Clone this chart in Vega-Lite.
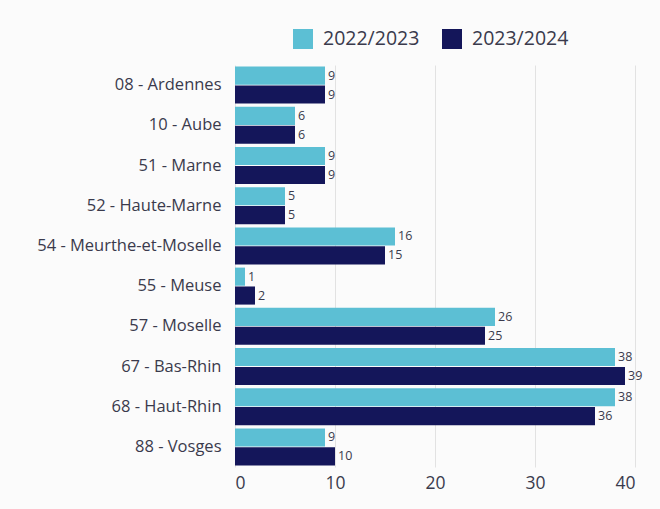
{
  "$schema": "https://vega.github.io/schema/vega-lite/v6.json",
  "width": 400,
  "height": 402,
  "autosize": {"type": "none"},
  "padding": {"left": 235, "top": 65, "right": 25, "bottom": 42},
  "background": "#fbfbfb",
  "config": {
    "view": {"stroke": null},
    "font": "Open Sans",
    "text": {"font": "Open Sans"}
  },
  "data": {
    "values": [
      {"dep": "08 - Ardennes", "annee": "2022/2023", "n": 9},
      {"dep": "08 - Ardennes", "annee": "2023/2024", "n": 9},
      {"dep": "10 - Aube", "annee": "2022/2023", "n": 6},
      {"dep": "10 - Aube", "annee": "2023/2024", "n": 6},
      {"dep": "51 - Marne", "annee": "2022/2023", "n": 9},
      {"dep": "51 - Marne", "annee": "2023/2024", "n": 9},
      {"dep": "52 - Haute-Marne", "annee": "2022/2023", "n": 5},
      {"dep": "52 - Haute-Marne", "annee": "2023/2024", "n": 5},
      {"dep": "54 - Meurthe-et-Moselle", "annee": "2022/2023", "n": 16},
      {"dep": "54 - Meurthe-et-Moselle", "annee": "2023/2024", "n": 15},
      {"dep": "55 - Meuse", "annee": "2022/2023", "n": 1},
      {"dep": "55 - Meuse", "annee": "2023/2024", "n": 2},
      {"dep": "57 - Moselle", "annee": "2022/2023", "n": 26},
      {"dep": "57 - Moselle", "annee": "2023/2024", "n": 25},
      {"dep": "67 - Bas-Rhin", "annee": "2022/2023", "n": 38},
      {"dep": "67 - Bas-Rhin", "annee": "2023/2024", "n": 39},
      {"dep": "68 - Haut-Rhin", "annee": "2022/2023", "n": 38},
      {"dep": "68 - Haut-Rhin", "annee": "2023/2024", "n": 36},
      {"dep": "88 - Vosges", "annee": "2022/2023", "n": 9},
      {"dep": "88 - Vosges", "annee": "2023/2024", "n": 10}
    ]
  },
  "encoding": {
    "y": {
      "field": "dep",
      "type": "nominal",
      "sort": null,
      "scale": {"paddingInner": 0.08, "paddingOuter": 0.04},
      "axis": {
        "title": null,
        "ticks": false,
        "domain": false,
        "labelFontSize": 16.5,
        "labelLimit": 300,
        "labelColor": "#3a3a4c",
        "labelPadding": 14,
        "labelFont": "Open Sans"
      }
    },
    "yOffset": {"field": "annee", "type": "nominal", "scale": {"paddingInner": 0.04}},
    "x": {
      "field": "n",
      "type": "quantitative",
      "scale": {"domain": [0, 40]},
      "axis": {
        "title": null,
        "values": [0, 10, 20, 30, 40],
        "ticks": false,
        "domain": false,
        "gridColor": "#e2e2e2",
        "labelFontSize": 17.5,
        "labelColor": "#3a3a4c",
        "labelPadding": 7,
        "labelFont": "Open Sans"
      }
    }
  },
  "layer": [
    {
      "mark": {"type": "bar"},
      "encoding": {
        "color": {
          "field": "annee",
          "type": "nominal",
          "scale": {"domain": ["2022/2023", "2023/2024"], "range": ["#5cbfd4", "#14165a"]},
          "legend": {
            "title": null,
            "orient": "none",
            "direction": "horizontal",
            "legendX": 58,
            "legendY": -36,
            "symbolType": "square",
            "symbolSize": 400,
            "symbolStrokeWidth": 0,
            "labelFontSize": 19.5,
            "labelColor": "#3a3a4c",
            "labelFont": "Open Sans",
            "columnPadding": 22,
            "labelOffset": 10
          }
        }
      }
    },
    {
      "mark": {"type": "text", "align": "left", "dx": 3, "fontSize": 12.5, "color": "#3a3a4c"},
      "encoding": {"text": {"field": "n", "type": "quantitative"}}
    }
  ]
}
